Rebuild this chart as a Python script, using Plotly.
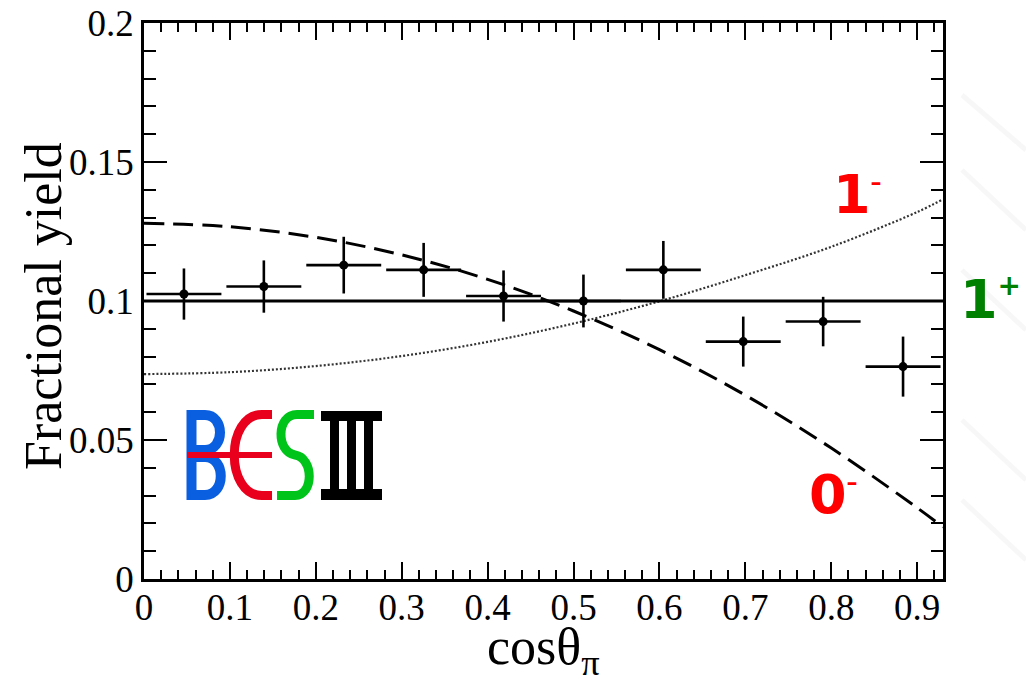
import plotly.graph_objects as go

# Measured fractional yield in bins of cos(theta_pi)
cos_bin = [0.0465, 0.1395, 0.2325, 0.3255, 0.4185, 0.5115, 0.6045, 0.6975, 0.7905, 0.8835]
frac_yield = [0.1025, 0.1052, 0.1129, 0.1112, 0.1018, 0.1000, 0.1112, 0.0854, 0.0926, 0.0764]
yield_err = [0.0092, 0.0094, 0.0102, 0.0097, 0.0092, 0.0095, 0.0104, 0.0090, 0.0089, 0.0108]
bin_half_width = [0.0436] * 10

# Expected shapes for the spin-parity hypotheses
curve_x = [0.0, 0.1, 0.2, 0.3, 0.4, 0.5, 0.6, 0.7, 0.8, 0.9, 0.93]
shape_0m = [0.1280, 0.1267, 0.1229, 0.1166, 0.1078, 0.0964, 0.0825, 0.0661, 0.0471, 0.0256, 0.0187]
shape_1m = [0.0737, 0.0744, 0.0766, 0.0802, 0.0853, 0.0919, 0.0999, 0.1093, 0.1195, 0.1320, 0.1366]
flat_x = [0.0, 0.93]
shape_1p = [0.1, 0.1]

x_ticks = [0, 0.1, 0.2, 0.3, 0.4, 0.5, 0.6, 0.7, 0.8, 0.9]
y_ticks = [0, 0.05, 0.1, 0.15, 0.2]

W, H = 1026, 682
L, R, T, B = 144, 943, 23, 579

SERIF = "Liberation Serif"


def px(x, y):
    """Pixel position on the page -> paper coordinates."""
    return (x - L) / (R - L), (B - y) / (B - T)


def path(cmds):
    out = []
    for c in cmds:
        if isinstance(c, str):
            out.append(c)
        else:
            fx, fy = px(*c)
            out.append(f"{fx:.5f},{fy:.5f}")
    return " ".join(out)


fig = go.Figure()

fig.add_trace(go.Scatter(
    x=curve_x, y=shape_0m, mode="lines", line_shape="spline",
    line=dict(color="black", width=3, dash="20px,9px"), hoverinfo="skip",
    name="0-"))
fig.add_trace(go.Scatter(
    x=curve_x, y=shape_1m, mode="lines", line_shape="spline",
    line=dict(color="#333333", width=2.2, dash="2px,2px"), hoverinfo="skip",
    name="1-"))
fig.add_trace(go.Scatter(
    x=flat_x, y=shape_1p, mode="lines",
    line=dict(color="black", width=3.2), hoverinfo="skip", name="1+"))
fig.add_trace(go.Scatter(
    x=cos_bin, y=frac_yield, mode="markers",
    marker=dict(color="black", size=9),
    error_y=dict(type="data", array=yield_err, color="black", thickness=2.6, width=0),
    error_x=dict(type="data", array=bin_half_width, color="black", thickness=2.6, width=0),
    name="data"))

shapes = []

# faint streaks of the page background on the right
for (x0, y0, x1, y1) in [(962, 95, 1026, 150), (962, 170, 1026, 230), (962, 270, 1026, 330),
                         (962, 420, 1026, 480), (962, 500, 1026, 560)]:
    a, b = px(x0, y0)
    c, d = px(x1, y1)
    shapes.append(dict(type="line", xref="paper", yref="paper", x0=a, y0=b, x1=c, y1=d,
                       line=dict(color="rgba(0,0,0,0.03)", width=5)))

BLUE, RED, GREEN = "#0a5fe0", "#e8001c", "#00c41a"

# BESIII logo: B
shapes.append(dict(type="path", xref="paper", yref="paper",
                   path=path(["M", (191.5, 410), "L", (191.5, 500)]),
                   line=dict(color=BLUE, width=10)))
shapes.append(dict(type="path", xref="paper", yref="paper",
                   path=path(["M", (191, 415), "L", (205, 415), "C", (225, 415), (225, 450), (205, 450),
                              "L", (191, 450)]),
                   line=dict(color=BLUE, width=10)))
shapes.append(dict(type="path", xref="paper", yref="paper",
                   path=path(["M", (191, 457), "L", (205, 457), "C", (226, 457), (226, 495), (205, 495),
                              "L", (191, 495)]),
                   line=dict(color=BLUE, width=10)))
# E (open arc with bar)
shapes.append(dict(type="path", xref="paper", yref="paper",
                   path=path(["M", (272, 414.5), "L", (262, 414.5), "C", (225, 414.5), (225, 495.5), (262, 495.5),
                              "L", (272, 495.5)]),
                   line=dict(color=RED, width=9)))
shapes.append(dict(type="path", xref="paper", yref="paper",
                   path=path(["M", (187, 455), "L", (272, 455)]),
                   line=dict(color=RED, width=6)))
# S
shapes.append(dict(type="path", xref="paper", yref="paper",
                   path=path(["M", (314, 414.5), "L", (297, 414.5), "C", (276, 414.5), (276, 452), (295, 455),
                              "C", (314, 458), (314, 495.5), (295, 495.5), "L", (277, 495.5)]),
                   line=dict(color=GREEN, width=9)))
# III
for (x0, y0, x1, y1) in [(321, 411, 382, 421), (321, 489, 382, 500),
                         (330, 421, 339, 489), (347, 421, 356, 489), (364, 421, 373, 489)]:
    a, b = px(x0, y1)
    c, d = px(x1, y0)
    shapes.append(dict(type="rect", xref="paper", yref="paper", x0=a, y0=b, x1=c, y1=d,
                       fillcolor="black", line=dict(width=0)))

annotations = []


def label(text, x, y, size, color, family="DejaVu Sans", weight="bold", angle=0):
    fx, fy = px(x, y)
    annotations.append(dict(text=text, x=fx, y=fy, xref="paper", yref="paper",
                            xanchor="center", yanchor="middle", showarrow=False, textangle=angle,
                            font=dict(family=family, size=size, color=color, weight=weight)))


def jp(digit, sign, size_sign):
    return f"{digit}<sup><span style='font-size:{size_sign}px'>{sign}</span></sup>"


RED_T, GREEN_T = "#ff0000", "#008000"
label(jp("1", "\u2013", 22), 857, 194, 54, RED_T)
label(jp("1", "+", 28), 990, 299, 54, GREEN_T)
label(jp("0", "\u2013", 22), 833, 494, 54, RED_T)

# axis titles
label("Fractional yield", 44, 306, 52, "black", family=SERIF, weight="normal", angle=-90)
label("cos\u03b8<sub>\u03c0</sub>", 543, 650, 52, "black", family=SERIF, weight="normal")

fig.update_layout(
    width=W, height=H,
    margin=dict(l=L, r=W - R, t=T, b=H - B, autoexpand=False),
    paper_bgcolor="white", plot_bgcolor="white",
    showlegend=False,
    shapes=shapes, annotations=annotations,
    font=dict(family=SERIF, color="black"),
)

axis_common = dict(
    showgrid=False, zeroline=False, showline=True, linecolor="black", linewidth=2.5,
    mirror="ticks", ticks="inside", tickcolor="black", tickwidth=2,
    tickfont=dict(family=SERIF, size=37, color="black"),
)

fig.update_xaxes(
    range=[0, 0.93], tickvals=x_ticks, ticklen=17, ticklabelstandoff=-6,
    minor=dict(dtick=0.02, tick0=0, ticks="inside", ticklen=9, tickwidth=2, tickcolor="black"),
    **axis_common,
)
fig.update_yaxes(
    range=[0, 0.2], tickvals=y_ticks, ticklen=23,
    minor=dict(dtick=0.01, tick0=0, ticks="inside", ticklen=12, tickwidth=2, tickcolor="black"),
    **axis_common,
)

fig.write_html("out.html")
